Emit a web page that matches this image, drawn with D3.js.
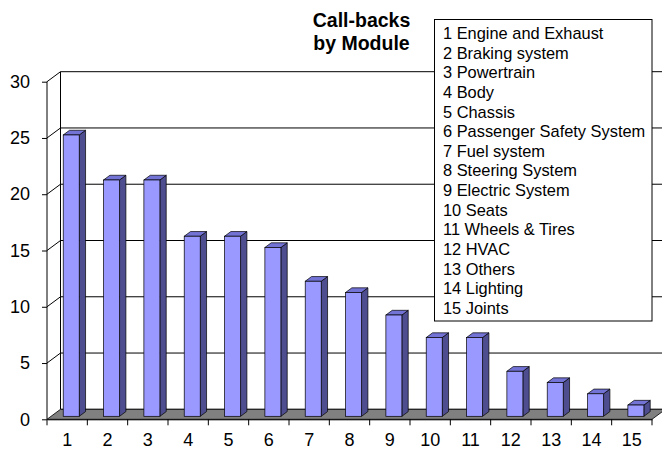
<!DOCTYPE html>
<html><head><meta charset="utf-8">
<script src="https://cdn.jsdelivr.net/npm/d3@7"></script>
<style>body{margin:0;background:#fff;} svg{display:block;font-family:"Liberation Sans",Arial,sans-serif;}</style>
</head><body>
<svg id="chart" width="662" height="450"></svg>
<script>
const categories = ["1","2","3","4","5","6","7","8","9","10","11","12","13","14","15"];
const values = [25,21,21,16,16,15,12,11,9,7,7,4,3,2,1];
const legendLabels = ["1 Engine and Exhaust","2 Braking system","3 Powertrain","4 Body","5 Chassis","6 Passenger Safety System","7 Fuel system","8 Steering System","9 Electric System","10 Seats","11 Wheels & Tires","12 HVAC","13 Others","14 Lighting","15 Joints"];
const yTicks = [0,5,10,15,20,25,30];
const titleLines = ["Call-backs","by Module"];

const svg = d3.select("#chart");
const DX = 13.5, DY = -10;       // depth offset of the back wall
const F0 = 0.3, FD = 0.47;       // bar front position and depth (fraction)
const barW = 16;

const x = d3.scaleBand().domain(categories).range([47, 652]).padding(0);
const y = d3.scaleLinear().domain([0, 30]).range([419.3, 81.7]);

// back wall
svg.append("rect").attr("x", 47 + DX).attr("y", y(30) + DY).attr("width", 700).attr("height", y(0) - y(30)).attr("fill", "#fff");
// gridlines on back wall + side wall diagonals
yTicks.forEach(v => {
  svg.append("line").attr("x1", 47 + DX).attr("x2", 700).attr("y1", y(v) + DY).attr("y2", y(v) + DY)
    .attr("stroke", "#000").attr("stroke-width", 1);
  if (v > 0) svg.append("line").attr("x1", 47).attr("y1", y(v)).attr("x2", 47 + DX).attr("y2", y(v) + DY)
    .attr("stroke", "#000").attr("stroke-width", 1);
});
// back wall left edge
svg.append("line").attr("x1", 47 + DX).attr("x2", 47 + DX).attr("y1", y(30) + DY).attr("y2", y(0) + DY).attr("stroke", "#000");

// floor
const x0 = 47, x1 = 652, yb = y(0);
svg.append("polygon")
  .attr("points", [[x0, yb], [x0 + DX, yb + DY], [x1 + DX, yb + DY], [x1, yb]].map(p => p.join(",")).join(" "))
  .attr("fill", "#808080").attr("stroke", "#000").attr("stroke-width", 0.8);

// front y axis
svg.append("line").attr("x1", 47).attr("x2", 47).attr("y1", y(30)).attr("y2", y(0)).attr("stroke", "#000");
const yAxis = svg.append("g").attr("transform", "translate(47,0)")
  .call(d3.axisLeft(y).tickValues(yTicks).tickSize(5).tickPadding(12));
yAxis.select(".domain").remove();
yAxis.selectAll("text").attr("font-size", 18).attr("fill", "#000").attr("font-family", "Liberation Sans, Arial, sans-serif");

// x axis
const xAxis = svg.append("g").attr("transform", `translate(0,${yb})`)
  .call(d3.axisBottom(x).tickSize(0).tickPadding(14));
xAxis.select(".domain").attr("stroke", "#000");
xAxis.selectAll("text").attr("font-size", 18).attr("fill", "#000").attr("font-family", "Liberation Sans, Arial, sans-serif");
// boundary ticks
const bounds = categories.map(c => x(c)).concat([x(categories[categories.length - 1]) + x.bandwidth()]);
svg.append("g").selectAll("line").data(bounds).join("line")
  .attr("x1", d => d).attr("x2", d => d).attr("y1", yb).attr("y2", yb + 6).attr("stroke", "#000");

// bars
const bars = svg.append("g");
categories.forEach((c, i) => {
  const bx = x(c) + x.bandwidth() / 2 + F0 * DX - barW / 2;
  const bBot = y(0) + F0 * DY;
  const bTop = y(values[i]) + F0 * DY;
  const ddx = FD * DX, ddy = FD * DY;
  const pts = a => a.map(p => p.join(",")).join(" ");
  bars.append("polygon").attr("points", pts([[bx + barW, bTop], [bx + barW + ddx, bTop + ddy], [bx + barW + ddx, bBot + ddy], [bx + barW, bBot]]))
    .attr("fill", "#4D4D8F").attr("stroke", "#000").attr("stroke-width", 0.7).attr("stroke-linejoin", "round");
  bars.append("polygon").attr("points", pts([[bx, bTop], [bx + ddx, bTop + ddy], [bx + barW + ddx, bTop + ddy], [bx + barW, bTop]]))
    .attr("fill", "#7373D6").attr("stroke", "#000").attr("stroke-width", 0.7).attr("stroke-linejoin", "round");
  bars.append("rect").attr("x", bx).attr("y", bTop).attr("width", barW).attr("height", bBot - bTop)
    .attr("fill", "#9999FF").attr("stroke", "#000").attr("stroke-width", 0.7);
});

// title
svg.append("g").selectAll("text").data(titleLines).join("text")
  .attr("x", 361.5).attr("y", (d, i) => 26.5 + i * 23.5)
  .attr("text-anchor", "middle").attr("font-size", 19.5).attr("font-weight", "bold").attr("fill", "#000")
  .text(d => d);

// legend
const lg = svg.append("g");
lg.append("rect").attr("x", 434.5).attr("y", 19.5).attr("width", 217.5).attr("height", 301.5)
  .attr("fill", "#fff").attr("stroke", "#000").attr("stroke-width", 1);
lg.selectAll("text").data(legendLabels).join("text")
  .attr("x", 443).attr("y", (d, i) => 39 + i * 19.64)
  .attr("font-size", 16.4).attr("fill", "#000").text(d => d);
</script>
</body></html>
